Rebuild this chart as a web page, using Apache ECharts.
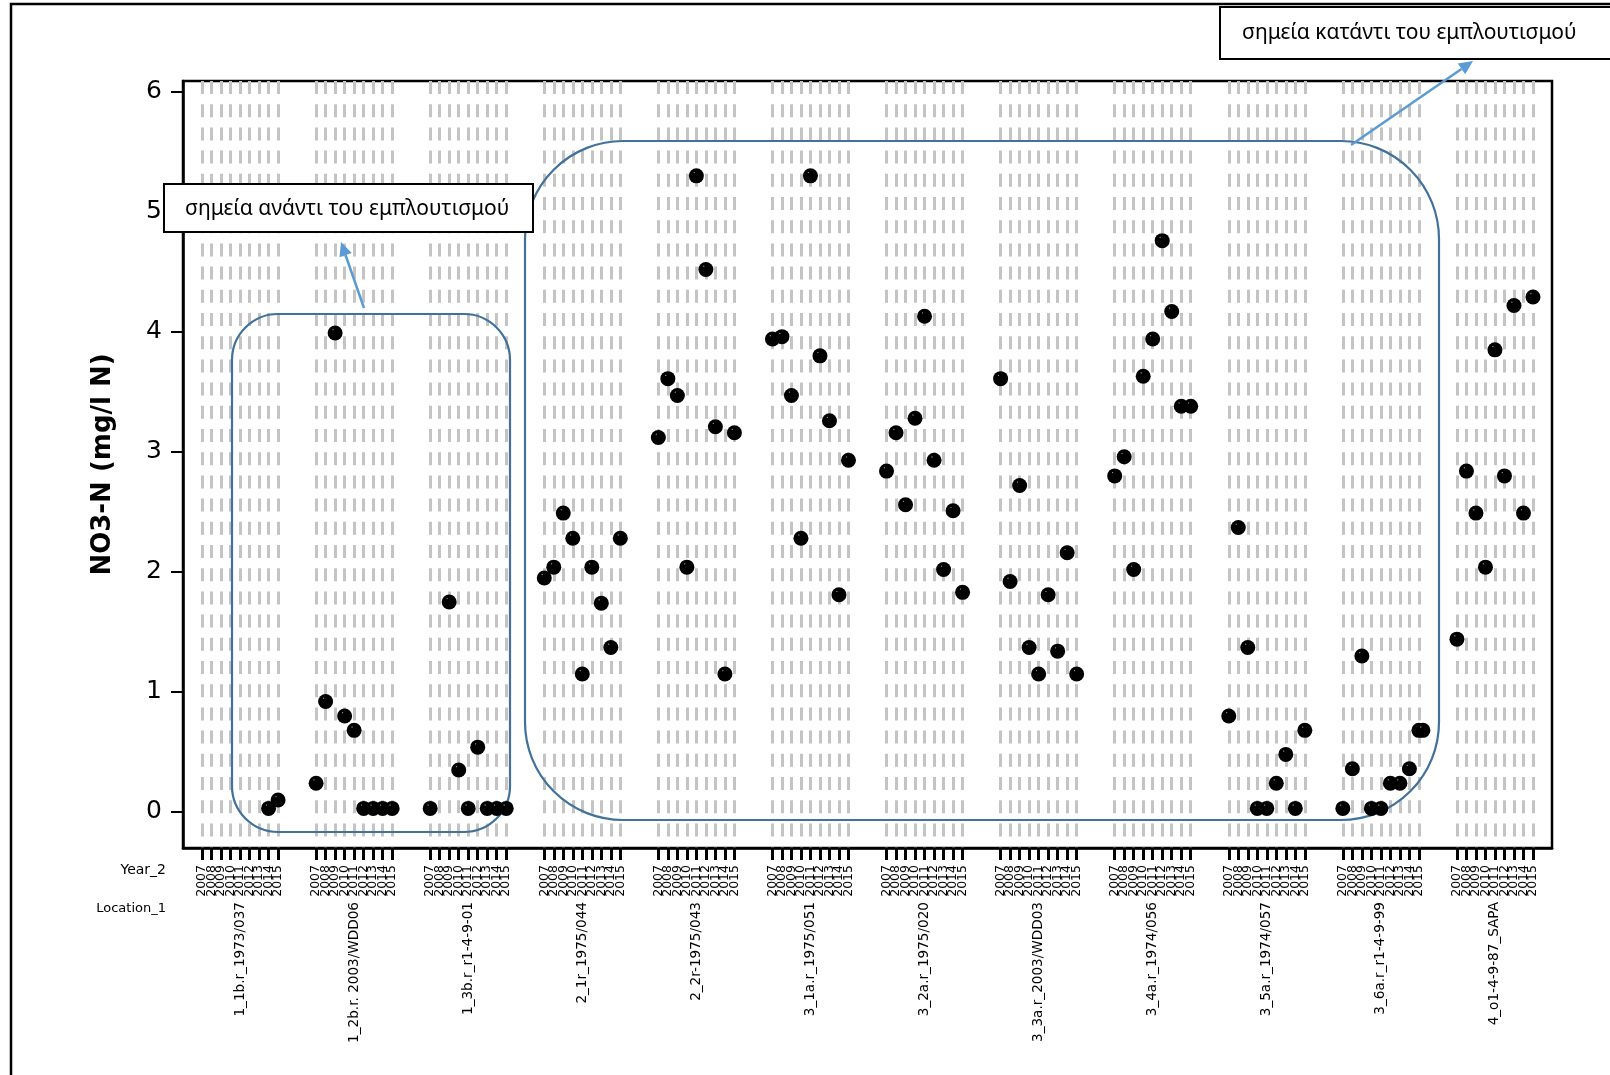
<!DOCTYPE html>
<html>
<head>
<meta charset="utf-8">
<script src="https://cdn.jsdelivr.net/npm/echarts@6/dist/echarts.min.js"></script>
<style>
  html, body { margin: 0; padding: 0; background: #ffffff; }
  #chart { width: 1610px; height: 1075px; }
</style>
</head>
<body>
<div id="chart"></div>
<script>
// Sampling locations (grouping level 1) and sampling years (grouping level 2)
const locations = [
  '1_1b.r_1973/037', '1_2b.r. 2003/WDD06', '1_3b.r_r1-4-9-01', '2_1r_1975/044',
  '2_2r-1975/043', '3_1a.r_1975/051', '3_2a.r_1975/020', '3_3a.r_2003/WDD03',
  '3_4a.r_1974/056', '3_5a.r_1974/057', '3_6a.r_r1-4-9-99', '4_o1-4-9-87_SAPA'
];
const years = ['2007', '2008', '2009', '2010', '2011', '2012', '2013', '2014', '2015'];
const yTicks = [0, 1, 2, 3, 4, 5, 6];

// NO3-N (mg/l N) per location: [year, value]
const loc01 = [['2014', 0.03], ['2015', 0.10]];
const loc02 = [['2007', 0.24], ['2008', 0.92], ['2009', 3.99], ['2010', 0.80], ['2011', 0.68],
               ['2012', 0.03], ['2013', 0.03], ['2014', 0.03], ['2015', 0.03]];
const loc03 = [['2007', 0.03], ['2009', 1.75], ['2010', 0.35], ['2011', 0.03], ['2012', 0.54],
               ['2013', 0.03], ['2014', 0.03], ['2015', 0.03]];
const loc04 = [['2007', 1.95], ['2008', 2.04], ['2009', 2.49], ['2010', 2.28], ['2011', 1.15],
               ['2012', 2.04], ['2013', 1.74], ['2014', 1.37], ['2015', 2.28]];
const loc05 = [['2007', 3.12], ['2008', 3.61], ['2009', 3.47], ['2010', 2.04], ['2011', 5.30],
               ['2012', 4.52], ['2013', 3.21], ['2014', 1.15], ['2015', 3.16]];
const loc06 = [['2007', 3.94], ['2008', 3.96], ['2009', 3.47], ['2010', 2.28], ['2011', 5.30],
               ['2012', 3.80], ['2013', 3.26], ['2014', 1.81], ['2015', 2.93]];
const loc07 = [['2007', 2.84], ['2008', 3.16], ['2009', 2.56], ['2010', 3.28], ['2011', 4.13],
               ['2012', 2.93], ['2013', 2.02], ['2014', 2.51], ['2015', 1.83]];
const loc08 = [['2007', 3.61], ['2008', 1.92], ['2009', 2.72], ['2010', 1.37], ['2011', 1.15],
               ['2012', 1.81], ['2013', 1.34], ['2014', 2.16], ['2015', 1.15]];
const loc09 = [['2007', 2.80], ['2008', 2.96], ['2009', 2.02], ['2010', 3.63], ['2011', 3.94],
               ['2012', 4.76], ['2013', 4.17], ['2014', 3.38], ['2015', 3.38]];
const loc10 = [['2007', 0.80], ['2008', 2.37], ['2009', 1.37], ['2010', 0.03], ['2011', 0.03],
               ['2012', 0.24], ['2013', 0.48], ['2014', 0.03], ['2015', 0.68]];
const loc11 = [['2007', 0.03], ['2008', 0.36], ['2009', 1.30], ['2010', 0.03], ['2011', 0.03],
               ['2012', 0.24], ['2013', 0.24], ['2014', 0.36], ['2015', 0.68], ['2015', 0.68]];
const loc12 = [['2007', 1.44], ['2008', 2.84], ['2009', 2.49], ['2010', 2.04], ['2011', 3.85],
               ['2012', 2.80], ['2013', 4.22], ['2014', 2.49], ['2015', 4.29]];
const byLocation = [loc01, loc02, loc03, loc04, loc05, loc06, loc07, loc08, loc09, loc10, loc11, loc12];

// Category slots: blank padding at both ends and blank slots between locations
const EDGE_SLOTS = 2;
const BETWEEN_SLOTS = 3;
const cats = [];
for (let k = 0; k < EDGE_SLOTS; k++) cats.push('gap-L' + k);
locations.forEach((loc, g) => {
  if (g > 0) for (let k = 0; k < BETWEEN_SLOTS; k++) cats.push('gap-' + g + '-' + k);
  years.forEach(y => cats.push(loc + '|' + y));
});
for (let k = 0; k < EDGE_SLOTS; k++) cats.push('gap-R' + k);

const isSlot = (idx, val) => String(val).indexOf('|') >= 0;
const midYear = years[Math.floor(years.length / 2)];
const yearText = v => { const p = String(v).split('|'); return p.length > 1 ? p[1] : ''; };
const locText = v => { const p = String(v).split('|'); return (p.length > 1 && p[1] === midYear) ? p[0] : ''; };

// Scatter points; a repeated year within a location is nudged sideways
const points = [];
byLocation.forEach((rows, g) => {
  const seen = {};
  rows.forEach(([yr, v]) => {
    const key = locations[g] + '|' + yr;
    const item = { value: [key, v] };
    if (seen[key]) item.symbolOffset = [4 * seen[key], 0];
    seen[key] = (seen[key] || 0) + 1;
    points.push(item);
  });
});

// black marker with a small glossy spot
const pointColor = {
  type: 'radial', x: 0.36, y: 0.28, r: 0.7,
  colorStops: [
    { offset: 0, color: '#a0a0a0' },
    { offset: 0.1, color: '#000000' },
    { offset: 1, color: '#000000' }
  ]
};

// Arrow made of a shaft and a triangular head
function arrow(x1, y1, x2, y2, color) {
  const dx = x2 - x1, dy = y2 - y1;
  const len = Math.hypot(dx, dy);
  const ux = dx / len, uy = dy / len;
  const headLen = 14, halfW = 6.5;
  const bx = x2 - ux * headLen, by = y2 - uy * headLen;
  return {
    type: 'group', z: 8,
    children: [
      { type: 'line', shape: { x1: x1, y1: y1, x2: bx, y2: by },
        style: { stroke: color, lineWidth: 2.5 }, z: 8 },
      { type: 'polygon',
        shape: { points: [[x2, y2], [bx - uy * halfW, by + ux * halfW], [bx + uy * halfW, by - ux * halfW]] },
        style: { fill: color }, z: 8 }
    ]
  };
}

const latin = 'DejaVu Sans';

const chart = echarts.init(document.getElementById('chart'), null, { renderer: 'canvas' });
chart.setOption({
  backgroundColor: '#ffffff',
  animation: false,
  grid: {
    left: 183, top: 81, right: 58, bottom: 227,
    show: true, borderColor: '#000000', borderWidth: 2.5, backgroundColor: 'transparent'
  },
  xAxis: [
    {
      type: 'category', data: cats, boundaryGap: false, position: 'bottom',
      axisLine: { show: true, onZero: false, lineStyle: { color: '#000000', width: 2.5 } },
      axisTick: { show: true, interval: isSlot, length: 12, lineStyle: { color: '#000000', width: 3 } },
      axisLabel: {
        interval: 0, rotate: 90, margin: 17, fontSize: 12.5,
        fontFamily: latin, color: '#000000',
        formatter: yearText
      },
      splitLine: {
        show: true, interval: isSlot,
        lineStyle: { color: '#c4c4c4', width: 3, type: [13, 10.2] }
      }
    },
    {
      type: 'category', data: cats, boundaryGap: false, position: 'bottom',
      axisLine: { show: false, onZero: false }, axisTick: { show: false }, splitLine: { show: false },
      axisLabel: {
        interval: 0, rotate: 90, margin: 54, fontSize: 13.6, fontFamily: latin, color: '#000000',
        formatter: locText
      }
    }
  ],
  yAxis: {
    type: 'value', min: -0.3, max: 6.09,
    axisLine: { show: true, onZero: false, lineStyle: { color: '#000000', width: 2.5 } },
    axisTick: { show: true, customValues: yTicks, length: 12, lineStyle: { color: '#000000', width: 2 } },
    axisLabel: { customValues: yTicks, margin: 21, fontSize: 25, fontFamily: latin, color: '#000000' },
    splitLine: { show: false },
    name: 'NO3-N (mg/l N)', nameLocation: 'middle', nameRotate: 90, nameGap: 67,
    nameTextStyle: { fontSize: 26, fontWeight: 'bold', fontFamily: latin, color: '#000000' }
  },
  series: [{
    type: 'scatter', xAxisIndex: 0, yAxisIndex: 0, z: 4,
    symbol: 'circle', symbolSize: 15,
    itemStyle: { color: pointColor, opacity: 1 },
    data: points
  }],
  graphic: [
    // outer frame
    { type: 'rect', z: 0, silent: true,
      shape: { x: 11, y: 4, width: 1700, height: 1200 },
      style: { fill: 'none', stroke: '#000000', lineWidth: 2.5 } },
    // grouping level captions
    { type: 'text', z: 6, style: { text: 'Year_2', x: 166, y: 870, align: 'right', verticalAlign: 'middle',
      font: '14px "DejaVu Sans"', fill: '#000000' } },
    { type: 'text', z: 6, style: { text: 'Location_1', x: 166, y: 909, align: 'right', verticalAlign: 'middle',
      font: '13px "DejaVu Sans"', fill: '#000000' } },
    // upstream / downstream enclosures
    { type: 'rect', z: 3, silent: true,
      shape: { x: 232, y: 314, width: 278, height: 518, r: 46 },
      style: { fill: 'none', stroke: '#41719c', lineWidth: 2.2 } },
    { type: 'rect', z: 3, silent: true,
      shape: { x: 525, y: 141, width: 914, height: 679, r: 98 },
      style: { fill: 'none', stroke: '#41719c', lineWidth: 2.2 } },
    arrow(364, 308, 341, 242, '#5b9bd5'),
    arrow(1351, 145, 1473, 61, '#5b9bd5'),
    // callout boxes
    { type: 'rect', z: 10, shape: { x: 164, y: 184, width: 369, height: 48 },
      style: { fill: '#ffffff', stroke: '#000000', lineWidth: 2 } },
    { type: 'text', z: 11, style: { text: 'σημεία ανάντι του εμπλουτισμού', x: 185, y: 209,
      verticalAlign: 'middle', font: '21px "Noto Sans"', fill: '#000000' } },
    { type: 'rect', z: 10, shape: { x: 1220, y: 7, width: 420, height: 52 },
      style: { fill: '#ffffff', stroke: '#000000', lineWidth: 2 } },
    { type: 'text', z: 11, style: { text: 'σημεία κατάντι του εμπλουτισμού', x: 1242, y: 33,
      verticalAlign: 'middle', font: '21px "Noto Sans"', fill: '#000000' } }
  ]
});
</script>
</body>
</html>
